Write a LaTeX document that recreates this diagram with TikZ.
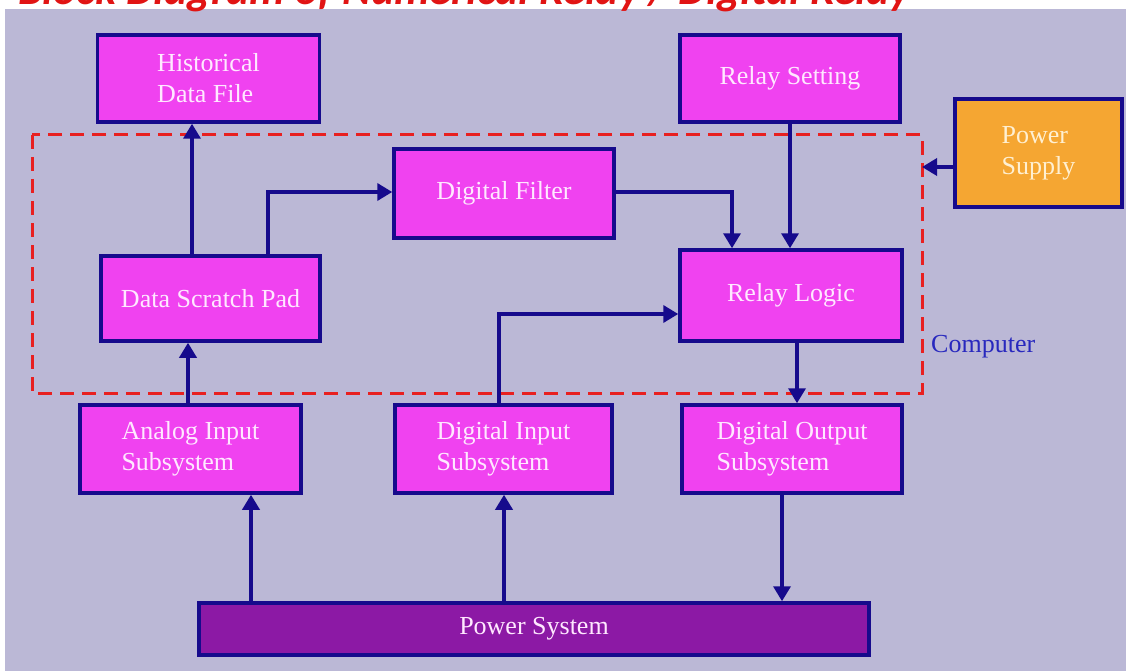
\documentclass[tikz,border=0pt]{standalone}
\usepackage{fontspec}
\setmainfont{Liberation Serif}
\newfontfamily\titlefont{Carlito}
\usetikzlibrary{arrows.meta}
\definecolor{bgl}{RGB}{187,184,214}
\definecolor{mag}{RGB}{240,66,240}
\definecolor{navy}{RGB}{22,10,140}
\definecolor{orng}{RGB}{245,166,50}
\definecolor{psys}{RGB}{140,25,165}
\definecolor{txtw}{RGB}{255,232,255}
\definecolor{dred}{RGB}{232,32,32}
\definecolor{compblue}{RGB}{40,40,190}
\definecolor{ttlred}{RGB}{225,20,20}
\tikzset{
  blk/.style={draw=navy, line width=3.5pt, fill=mag, text=txtw, inner sep=0pt,
    font=\fontsize{26}{31}\selectfont, align=left},
  conn/.style={draw=navy, line width=3.5pt, -{Triangle[length=15pt,width=17pt]}},
}
\begin{document}
\begin{tikzpicture}[x=1pt,y=-1pt]
\useasboundingbox (0,0) rectangle (1126,671);
\fill[white] (0,0) rectangle (1126,671);
\fill[bgl] (5,9) rectangle (1126,671);
\begin{scope}
\clip (0,0) rectangle (1126,671);
\node[anchor=base west, inner sep=0pt, text=ttlred, font=\titlefont\bfseries\itshape\fontsize{44}{50}\selectfont] (title) at (18,5) {Block Diagram of Numerical Relay / Digital Relay};
\end{scope}
% computer boundary
\draw[dred, line width=3pt, dash pattern=on 14pt off 8pt] (32,135) rectangle (922,393);
\node[text=compblue, font=\fontsize{26}{31}\selectfont, anchor=west, inner sep=0pt] (comp) at (931,347) {Computer};
% blocks
\node[blk, minimum width=222pt, minimum height=87pt] (hist) at (208.5,78.5) {Historical\\Data File};
\node[blk, minimum width=220pt, minimum height=87pt] (rset) at (790,78.5) {Relay Setting};
\node[blk, fill=orng, text={rgb,255:red,255;green,240;blue,210}, minimum width=167pt, minimum height=108pt] (psup) at (1038.5,153) {Power\\Supply};
\node[blk, minimum width=220pt, minimum height=89pt] (filt) at (504,193.5) {Digital Filter};
\node[blk, minimum width=219pt, minimum height=85pt] (scr) at (210.5,298.5) {Data Scratch Pad};
\node[blk, minimum width=222pt, minimum height=91pt] (logic) at (791,295.5) {Relay Logic};
\node[blk, minimum width=221pt, minimum height=88pt] (ain) at (190.5,449) {Analog Input\\Subsystem};
\node[blk, minimum width=217pt, minimum height=88pt] (din) at (503.5,449) {Digital Input\\Subsystem};
\node[blk, minimum width=220pt, minimum height=88pt] (dout) at (792,449) {Digital Output\\Subsystem};
\node[blk, fill=psys, minimum width=670pt, minimum height=52pt] (psys) at (534,629) {Power System};
% boundary coordinate for power supply arrow
\coordinate (bnd) at (922,167);
% connectors
\draw[conn] (scr.north -| 192,0) -- (hist.south -| 192,0);
\draw[conn] (scr.north -| 268,0) |- (filt.west |- 0,192);
\draw[conn] (filt.east |- 0,192) -| (logic.north -| 732,0);
\draw[conn] (rset.south -| 790,0) -- (logic.north -| 790,0);
\draw[conn] (psup.west |- bnd) -- (bnd);
\draw[conn] (din.north -| 499,0) |- (logic.west |- 0,314);
\draw[conn] (logic.south -| 797,0) -- (dout.north -| 797,0);
\draw[conn] (ain.north -| 188,0) -- (scr.south -| 188,0);
\draw[conn] (psys.north -| 251,0) -- (ain.south -| 251,0);
\draw[conn] (psys.north -| 504,0) -- (din.south -| 504,0);
\draw[conn] (dout.south -| 782,0) -- (psys.north -| 782,0);
\end{tikzpicture}
\end{document}
